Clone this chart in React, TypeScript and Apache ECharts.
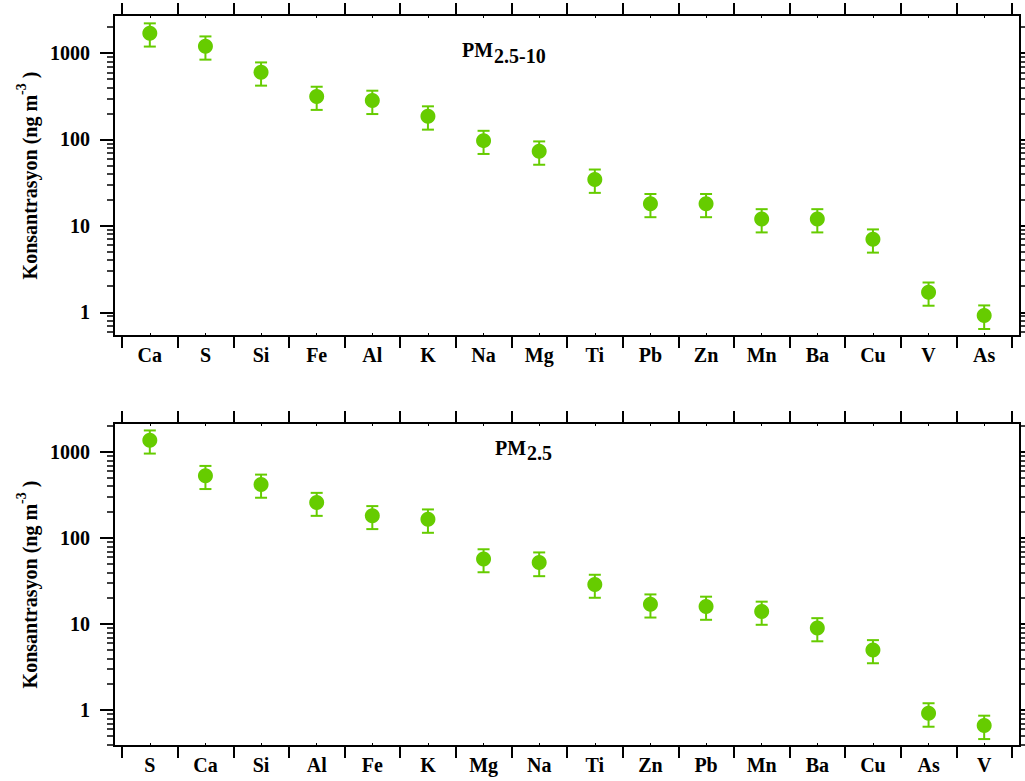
import React, { useEffect, useRef } from 'react';
import * as echarts from 'echarts';

// PM2.5-10 (coarse) panel
const coarseCats = ['Ca', 'S', 'Si', 'Fe', 'Al', 'K', 'Na', 'Mg', 'Ti', 'Pb', 'Zn', 'Mn', 'Ba', 'Cu', 'V', 'As'];
const coarseVals = [1700, 1200, 600, 314, 282, 186, 97, 73, 34.5, 18, 18, 12, 12, 7, 1.7, 0.92];
const coarseErr = [510, 360, 180, 94, 85, 56, 29, 22, 10.4, 5.4, 5.4, 3.6, 3.6, 2.1, 0.51, 0.28];

// PM2.5 (fine) panel
const fineCats = ['S', 'Ca', 'Si', 'Al', 'Fe', 'K', 'Mg', 'Na', 'Ti', 'Zn', 'Pb', 'Mn', 'Ba', 'Cu', 'As', 'V'];
const fineVals = [1370, 530, 420, 258, 181, 165, 57, 52, 28.8, 17, 16, 14, 9, 5, 0.92, 0.66];
const fineErr = [411, 159, 126, 77, 54, 50, 17, 16, 8.6, 5.1, 4.8, 4.2, 2.7, 1.5, 0.28, 0.2];

const majorTicks = [1, 10, 100, 1000];
const minorTicks = [0.4, 0.5, 0.6, 0.7, 0.8, 0.9, 2, 3, 4, 5, 6, 7, 8, 9, 20, 30, 40, 50, 60, 70, 80, 90, 200, 300, 400, 500, 600, 700, 800, 900, 2000];

const coarseRange = [0.531, 2761];
const fineRange = [0.382, 2174];

const GREEN = '#66cc00';
const FONT = '"Liberation Serif", "Times New Roman", serif';

const panels = [
  { cats: coarseCats, vals: coarseVals, err: coarseErr, range: coarseRange, top: 15, height: 321, sub: '2.5-10', titleX: 462, titleY: 50 },
  { cats: fineCats, vals: fineVals, err: fineErr, range: fineRange, top: 423, height: 323, sub: '2.5', titleX: 495, titleY: 447.5 },
];

const FRAME_L = 114;
const FRAME_R = 1020;
const CAT_L = 122;
const CAT_R = 1012;

export default function App() {
  const ref = useRef<HTMLDivElement>(null);
  useEffect(() => {
    if (!ref.current) return;
    const chart = echarts.init(ref.current, null, { renderer: 'svg' });

    const grids: any[] = [];
    const xAxes: any[] = [];
    const yAxes: any[] = [];
    const series: any[] = [];
    const graphics: any[] = [];

    panels.forEach((p, g) => {
      grids.push({ left: CAT_L, right: 1025 - CAT_R, top: p.top, height: p.height, containLabel: false });
      const minors = minorTicks.filter((v) => v > p.range[0] && v < p.range[1]);
      const xBase = {
        type: 'category',
        gridIndex: g,
        data: p.cats,
        boundaryGap: true,
        axisLine: { show: false },
        splitLine: { show: false },
      };
      xAxes.push({
        ...xBase,
        position: 'bottom',
        axisTick: { show: true, length: 12, lineStyle: { color: '#000', width: 2 } },
        axisLabel: { show: true, interval: 0, margin: 9, color: '#000', fontFamily: FONT, fontWeight: 'bold', fontSize: 20 },
      });
      xAxes.push({
        ...xBase,
        position: 'bottom',
        axisTick: { show: true, alignWithLabel: true, inside: true, length: 3, lineStyle: { color: '#000', width: 1 } },
        axisLabel: { show: false },
      });
      xAxes.push({
        ...xBase,
        position: 'top',
        axisTick: { show: true, length: 12, lineStyle: { color: '#000', width: 2 } },
        axisLabel: { show: false },
      });
      xAxes.push({
        ...xBase,
        position: 'top',
        axisTick: { show: true, alignWithLabel: true, inside: true, length: 3, lineStyle: { color: '#000', width: 1 } },
        axisLabel: { show: false },
      });

      const yBase = {
        type: 'log',
        logBase: 10,
        gridIndex: g,
        min: p.range[0],
        max: p.range[1],
        offset: 8,
        axisLine: { show: false },
        splitLine: { show: false },
        minorTick: { show: false },
      };
      yAxes.push({
        ...yBase,
        position: 'left',
        axisTick: { show: true, length: 14, customValues: majorTicks, lineStyle: { color: '#000', width: 2 } },
        axisLabel: {
          show: true,
          customValues: majorTicks,
          margin: 24,
          color: '#000',
          fontFamily: FONT,
          fontWeight: 'bold',
          fontSize: 20,
          formatter: (v: number) => String(Math.round(v)),
        },
      });
      yAxes.push({
        ...yBase,
        position: 'left',
        axisTick: { show: true, length: 7, customValues: minors, lineStyle: { color: '#000', width: 1.5 } },
        axisLabel: { show: false },
      });
      yAxes.push({
        ...yBase,
        position: 'right',
        axisTick: { show: true, length: 14, customValues: majorTicks, lineStyle: { color: '#000', width: 2 } },
        axisLabel: { show: false },
      });
      yAxes.push({
        ...yBase,
        position: 'right',
        axisTick: { show: true, length: 7, customValues: minors, lineStyle: { color: '#000', width: 1.5 } },
        axisLabel: { show: false },
      });

      series.push({
        type: 'custom',
        xAxisIndex: g * 4,
        yAxisIndex: g * 4,
        data: p.cats.map((c, i) => [i, p.vals[i] - p.err[i], p.vals[i] + p.err[i]]),
        encode: { x: 0, y: [1, 2] },
        z: 2,
        renderItem: (params: any, api: any) => {
          const x = api.value(0);
          const lo = api.coord([x, api.value(1)]);
          const hi = api.coord([x, api.value(2)]);
          const hw = 6;
          const st = { stroke: GREEN, lineWidth: 2, fill: 'none' };
          return {
            type: 'group',
            children: [
              { type: 'line', shape: { x1: hi[0], y1: hi[1], x2: lo[0], y2: lo[1] }, style: st },
              { type: 'line', shape: { x1: hi[0] - hw, y1: hi[1], x2: hi[0] + hw, y2: hi[1] }, style: st },
              { type: 'line', shape: { x1: lo[0] - hw, y1: lo[1], x2: lo[0] + hw, y2: lo[1] }, style: st },
            ],
          };
        },
      });
      series.push({
        type: 'scatter',
        xAxisIndex: g * 4,
        yAxisIndex: g * 4,
        data: p.cats.map((c, i) => [i, p.vals[i]]),
        symbol: 'circle',
        symbolSize: 15,
        itemStyle: { color: GREEN, opacity: 1 },
        z: 3,
      });

      // frame
      graphics.push({
        type: 'rect',
        shape: { x: FRAME_L, y: p.top, width: FRAME_R - FRAME_L, height: p.height },
        style: { fill: 'none', stroke: '#000', lineWidth: 2 },
        z: 100,
      });
      // axis name
      graphics.push({
        type: 'text',
        x: 27,
        y: p.top + p.height / 2,
        rotation: Math.PI / 2,
        style: {
          text: '{a|Konsantrasyon (ng m}{b|-3}{a| )}',
          align: 'center',
          verticalAlign: 'middle',
          textAlign: 'center',
          textVerticalAlign: 'middle',
          fill: '#000',
          rich: {
            a: { fontFamily: FONT, fontWeight: 'bold', fontSize: 20, lineHeight: 26, verticalAlign: 'bottom', fill: '#000' },
            b: { fontFamily: FONT, fontWeight: 'bold', fontSize: 14, lineHeight: 14, verticalAlign: 'top', fill: '#000' },
          },
        },
        z: 100,
      });
      // title
      graphics.push({
        type: 'text',
        x: p.titleX,
        y: p.titleY,
        style: {
          text: 'PM',
          align: 'left',
          verticalAlign: 'middle',
          textAlign: 'left',
          textVerticalAlign: 'middle',
          fill: '#000',
          font: `bold 20px ${FONT}`,
        },
        z: 100,
      });
      graphics.push({
        type: 'text',
        x: p.titleX + 32,
        y: p.titleY + 5.5,
        style: {
          text: p.sub,
          align: 'left',
          verticalAlign: 'middle',
          textAlign: 'left',
          textVerticalAlign: 'middle',
          fill: '#000',
          font: `bold 20px ${FONT}`,
        },
        z: 100,
      });
    });

    chart.setOption({
      animation: false,
      backgroundColor: '#fff',
      grid: grids,
      xAxis: xAxes,
      yAxis: yAxes,
      series,
      graphic: { elements: graphics },
    });
    return () => chart.dispose();
  }, []);

  return (
    <div
      ref={ref}
      style={{ position: 'absolute', left: 0, top: 0, width: 1025, height: 781 }}
    />
  );
}
